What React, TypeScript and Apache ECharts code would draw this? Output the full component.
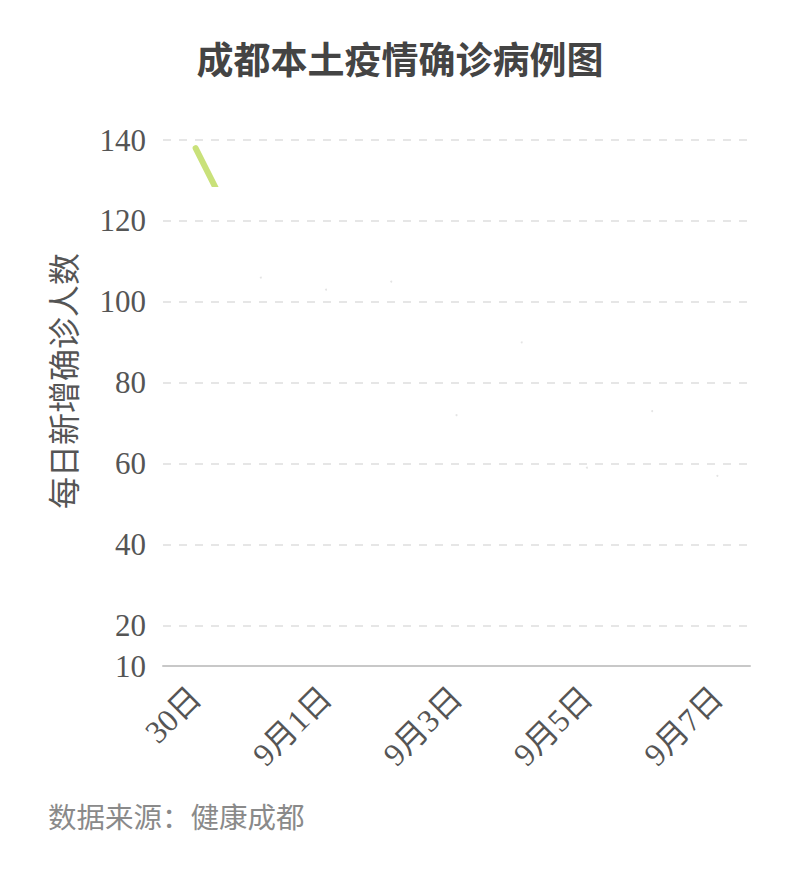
import { useEffect, useRef } from "react";
import * as echarts from "echarts";

const TITLE = "成都本土疫情确诊病例图";
const Y_NAME = "每日新增确诊人数";
const SOURCE = "数据来源：健康成都";

// 8月30日 起的日期
const days = ["30日", "31日", "9月1日", "9月2日", "9月3日", "9月4日", "9月5日", "9月6日", "9月7日"];
// 每日新增确诊
const cases = [138, 106, 103, 105, 72, 90, 59, 73, 57];

// 图中折线只画出了开头一小段（约从 138 落到 128 处）
const drawnDownTo = 128.5;

const LINE = "#c9e17a";
const TEXT = "#555555";
const AXIS = "#c8c8c8";
const GRID = "#e6e6e6";
const SERIF = "'Liberation Serif', 'DejaVu Serif', 'Noto Sans CJK SC', serif";
const SANS = "'Noto Sans CJK SC', 'Noto Sans', sans-serif";

function buildOption() {
  return {
    animation: false,
    backgroundColor: "#ffffff",
    title: {
      text: TITLE,
      left: "center",
      top: 34,
      textStyle: { fontFamily: SANS, fontSize: 37, fontWeight: "bold", color: "#444444" },
    },
    grid: { left: 163, right: 50, top: 140, bottom: 219 },
    xAxis: {
      type: "category",
      data: days,
      boundaryGap: true,
      axisLine: { lineStyle: { color: AXIS, width: 2 } },
      axisTick: { alignWithLabel: true, interval: 1, length: 7, lineStyle: { color: AXIS, width: 2 } },
      axisLabel: {
        interval: 1,
        rotate: 45,
        margin: 26,
        fontFamily: SERIF,
        fontSize: 32,
        color: TEXT,
      },
    },
    yAxis: {
      type: "value",
      min: 10,
      max: 140,
      splitNumber: 6,
      axisLine: { show: false },
      axisTick: { show: false },
      axisLabel: { margin: 17, fontFamily: SERIF, fontSize: 31, color: TEXT },
      splitLine: { lineStyle: { color: GRID, type: [8, 8], width: 2 } },
    },
    visualMap: {
      show: false,
      type: "piecewise",
      seriesIndex: 0,
      dimension: 1,
      pieces: [
        { min: drawnDownTo, max: 200, color: LINE },
        { min: 0, max: drawnDownTo, color: "rgba(255,255,255,0)" },
      ],
    },
    graphic: [
      {
        type: "text",
        x: 62,
        y: 381,
        rotation: Math.PI / 2,
        style: {
          text: Y_NAME,
          align: "center",
          verticalAlign: "middle",
          fontFamily: SANS,
          fontSize: 32,
          fill: TEXT,
        },
      },
      {
        type: "text",
        left: 48,
        top: 801,
        style: { text: SOURCE, fontFamily: SANS, fontSize: 28.5, fill: "#8a8a8a" },
      },
    ],
    series: [
      {
        type: "line",
        data: cases,
        showSymbol: false,
        lineStyle: { width: 6, cap: "round" },
        z: 3,
      },
      {
        type: "scatter",
        data: cases,
        symbolSize: 2,
        itemStyle: { color: "#dddddd" },
        z: 2,
      },
    ],
  };
}

export default function App() {
  const ref = useRef<HTMLDivElement>(null);

  useEffect(() => {
    document.body.style.margin = "0";
    if (!ref.current) return;
    const chart = echarts.init(ref.current, null, { renderer: "svg" });
    chart.setOption(buildOption() as any);
    return () => chart.dispose();
  }, []);

  return <div ref={ref} style={{ width: 800, height: 885 }} />;
}
